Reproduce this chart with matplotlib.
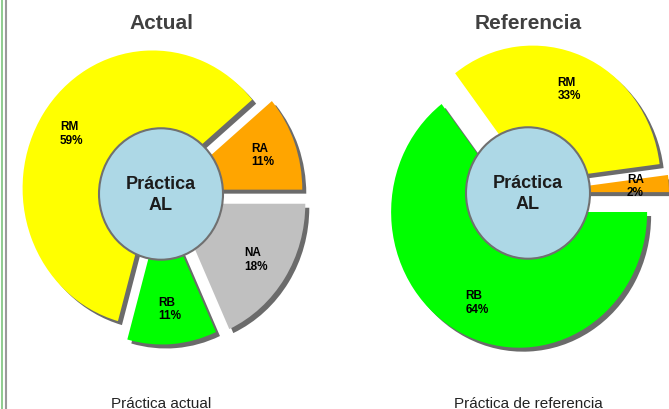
import matplotlib
matplotlib.use("Agg")
import matplotlib.pyplot as plt
from matplotlib.patches import Circle
from matplotlib.lines import Line2D

# =========================
# DATA
# =========================
actual_labels = ["RA", "RM", "RB", "NA"]
actual_values = [11, 59, 11, 18]
actual_colors = ["#FFA500", "#FFFF00", "#00FF00", "#C0C0C0"]

ref_labels = ["RA", "RM", "RB"]
ref_values = [2, 33, 64]
ref_colors = ["#FFA500", "#FFFF00", "#00FF00"]

titles = ["Actual", "Referencia"]
captions = ["Práctica actual", "Práctica de referencia"]
center_text = "Práctica\nAL"

# =========================
# LAYOUT
# =========================
W, H = 669, 410
SY = 1.06  # picture is drawn a bit taller than wide

plt.rcParams["font.family"] = ["Liberation Sans", "DejaVu Sans"]

fig = plt.figure(figsize=(W / 100, H / 100), dpi=100)
ax = fig.add_axes([0, 0, 1, 1])


def py(y):
    # pixel row -> data y
    return (H - y) / SY


def draw_pie(values, labels, colors, explode, center, radius, title, caption):
    # drop shadow
    shadow, _ = ax.pie(values, explode=explode, colors=["#6b6b6b"] * len(values),
                       startangle=0, center=(center[0] + 4, center[1] - 4 / SY),
                       radius=radius, frame=True, wedgeprops=dict(linewidth=0))
    for w in shadow:
        w.set_zorder(1)

    wedges, texts = ax.pie(values, explode=explode, colors=colors,
                           labels=[f"{l}\n{v}%" for l, v in zip(labels, values)],
                           labeldistance=0.74, startangle=0, center=center,
                           radius=radius, frame=True, wedgeprops=dict(linewidth=0))
    for w in wedges:
        w.set_zorder(2)
    for t in texts:
        t.set(ha="center", va="center", ma="left", fontsize=8.5,
              fontweight="bold", color="black", zorder=5, linespacing=1.15)

    ax.add_patch(Circle(center, 62, facecolor="#ADD8E6", edgecolor="#707070",
                        linewidth=1.5, zorder=3))
    ax.text(center[0], center[1], center_text, ha="center", va="center",
            fontsize=13, fontweight="bold", color="#1c1c1c", linespacing=1.3, zorder=6)
    ax.text(center[0], py(23), title, ha="center", va="center",
            fontsize=15, fontweight="bold", color="#404040")
    ax.text(center[0], py(408), caption, ha="center", va="baseline",
            fontsize=11, color="#222222")


draw_pie(actual_values, actual_labels, actual_colors, [12, 10, 12, 17],
         (161, py(195)), 130, titles[0], captions[0])
draw_pie(ref_values, ref_labels, ref_colors, [13, 12, 20],
         (528, py(194)), 128, titles[1], captions[1])

# window edge on the left
fig.add_artist(Line2D([6.5 / W, 6.5 / W], [0, 1], color="#9a9a9a", lw=1.5))
fig.add_artist(Line2D([1.5 / W, 1.5 / W], [0, 1], color="#7cc47c", lw=1.2))

ax.set_xlim(0, W)
ax.set_ylim(0, H / SY)
ax.set_aspect("auto")
ax.axis("off")

fig.savefig("out.png", dpi=100)
